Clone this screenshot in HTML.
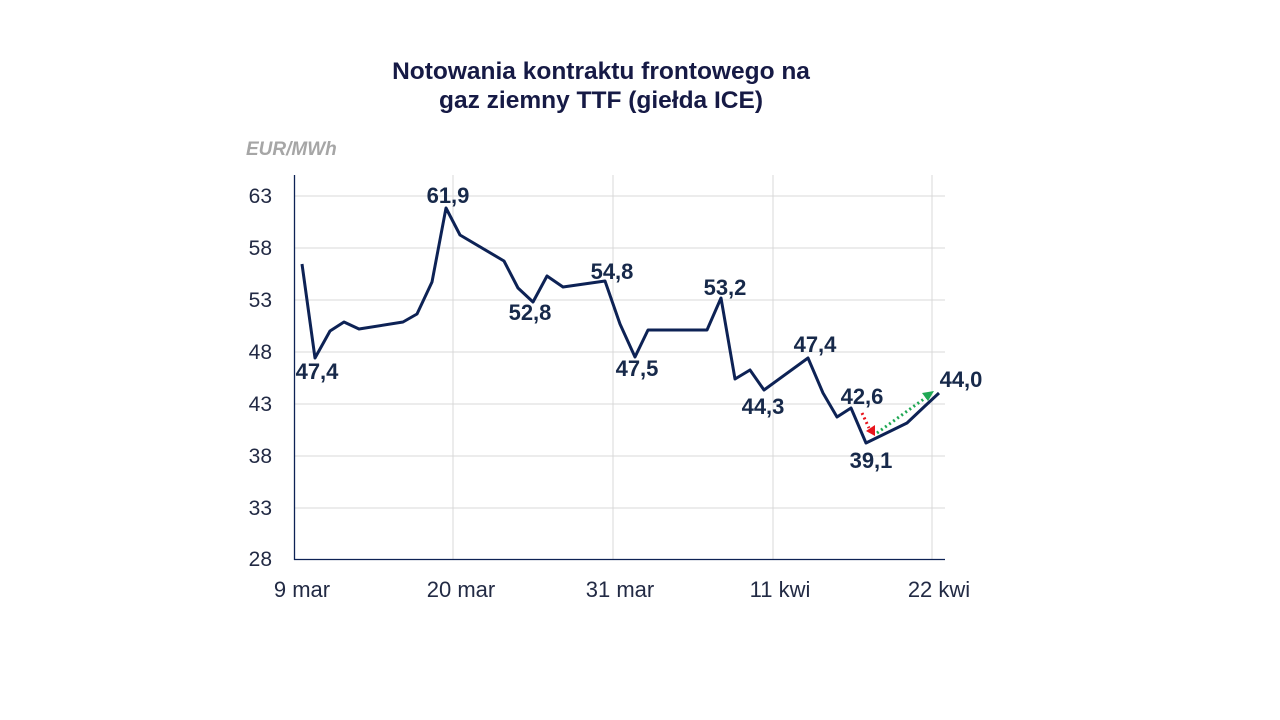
<!DOCTYPE html>
<html><head><meta charset="utf-8"><style>
html,body{margin:0;padding:0;background:#fff;}
svg{display:block;font-family:"Liberation Sans",sans-serif;}
</style></head><body>
<svg width="1280" height="720" viewBox="0 0 1280 720" xmlns="http://www.w3.org/2000/svg">
<rect width="1280" height="720" fill="#fff"/>
<g font-weight="bold" font-size="24.5" fill="#161a45" text-anchor="middle">
<text x="601" y="79">Notowania kontraktu frontowego na</text>
<text x="601" y="108">gaz ziemny TTF (giełda ICE)</text>
</g>
<text x="246" y="155" font-size="19" font-weight="bold" font-style="italic" fill="#a6a6a6">EUR/MWh</text>
<g stroke="#d9d9d9" stroke-width="1">
<line x1="295" y1="196" x2="945" y2="196"/>
<line x1="295" y1="248" x2="945" y2="248"/>
<line x1="295" y1="300" x2="945" y2="300"/>
<line x1="295" y1="352" x2="945" y2="352"/>
<line x1="295" y1="404" x2="945" y2="404"/>
<line x1="295" y1="456" x2="945" y2="456"/>
<line x1="295" y1="508" x2="945" y2="508"/>
<line x1="453" y1="175" x2="453" y2="559"/>
<line x1="613" y1="175" x2="613" y2="559"/>
<line x1="773" y1="175" x2="773" y2="559"/>
<line x1="932" y1="175" x2="932" y2="559"/>
</g>
<line x1="294.5" y1="175" x2="294.5" y2="560" stroke="#0d2255" stroke-width="1.3"/>
<line x1="294" y1="559.5" x2="945" y2="559.5" stroke="#0d2255" stroke-width="1.3"/>
<g font-size="21" fill="#222a44" text-anchor="end">
<text x="272" y="203">63</text><text x="272" y="255">58</text><text x="272" y="307">53</text>
<text x="272" y="359">48</text><text x="272" y="411">43</text><text x="272" y="463">38</text>
<text x="272" y="515">33</text><text x="272" y="566">28</text>
</g>
<g font-size="22" fill="#222a44" text-anchor="middle">
<text x="302" y="597">9 mar</text><text x="461" y="597">20 mar</text><text x="620" y="597">31 mar</text>
<text x="780" y="597">11 kwi</text><text x="939" y="597">22 kwi</text>
</g>
<polyline fill="none" stroke="#0d2255" stroke-width="3" stroke-linejoin="round" points="302,264 315,358 330,331 344,322 359,329 403,322 417,314 432,282 446,208 460,235 504,261 518,288 533,302 547,276 563,287 605,281 620,324 635,357 648,330 707,330 721,298 735,379 750,370 764,390 808,358 823,393 837,417 851,408 866,443 907,423 925,406 939,393"/>
<line x1="862" y1="413" x2="869" y2="428" stroke="#e8141c" stroke-width="3" stroke-dasharray="2,3"/>
<polygon points="866,431 875,436 875,425" fill="#e8141c"/>
<line x1="877" y1="433" x2="928" y2="396" stroke="#1fa854" stroke-width="3" stroke-dasharray="2,3"/>
<polygon points="934,391 922,393 928,401" fill="#1fa854"/>
<g font-size="22" font-weight="bold" fill="#17294a" text-anchor="middle">
<text x="317" y="379">47,4</text>
<text x="448" y="203">61,9</text>
<text x="530" y="320">52,8</text>
<text x="612" y="279">54,8</text>
<text x="637" y="376">47,5</text>
<text x="725" y="295">53,2</text>
<text x="763" y="414">44,3</text>
<text x="815" y="352">47,4</text>
<text x="862" y="404">42,6</text>
<text x="871" y="468">39,1</text>
<text x="961" y="387">44,0</text>
</g>
</svg>
</body></html>
